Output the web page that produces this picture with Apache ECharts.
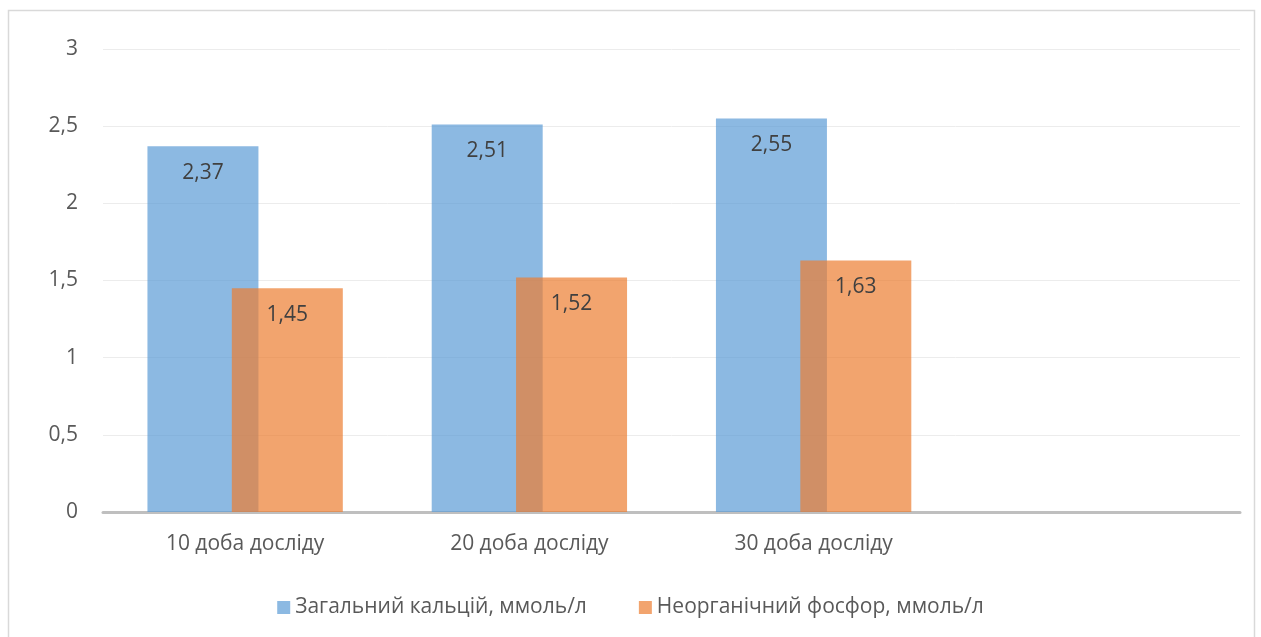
<!DOCTYPE html>
<html>
<head>
<meta charset="utf-8">
<script src="https://cdn.jsdelivr.net/npm/echarts@6/dist/echarts.min.js"></script>
<style>
html,body{margin:0;padding:0;background:#fff;}
#chart{width:1261px;height:637px;}
</style>
</head>
<body>
<div id="chart"></div>
<script>
var categories = ['10 доба досліду', '20 доба досліду', '30 доба досліду', ''];
var calcium = [2.37, 2.51, 2.55, null];
var phosphorus = [1.45, 1.52, 1.63, null];
var seriesNames = ['Загальний кальцій, ммоль/л', 'Неорганічний фосфор, ммоль/л'];

var fontFamily = '"Open Sans", "Noto Sans", sans-serif';

function fmt(p){
    return String(p.value).replace('.', ',');
}

var chartObj = {
    myChart : echarts.init(document.getElementById('chart')),
    option : null,
    init : function(){
        var that = this;
        that.render();
    },
    render : function(){
        var that = this;
        that.option = {
            animation : false,
            graphic : [{
                type : 'rect',
                shape : {x: 8.5, y: 10.5, width: 1246, height: 640},
                style : {fill: 'none', stroke: '#d9d9d9', lineWidth: 1.5}
            }],
            grid : {left: 103, right: 21, top: 49, bottom: 125},
            legend : {
                bottom : 14,
                left : 'center',
                itemWidth : 13,
                itemHeight : 13,
                itemGap : 52,
                icon : 'rect',
                textStyle : {color: '#595959', fontSize: 21, fontFamily: fontFamily}
            },
            xAxis : {
                type : 'category',
                data : categories,
                axisLine : {lineStyle: {color: '#bfbfbf', width: 3}},
                axisTick : {show: false},
                axisLabel : {color: '#595959', fontSize: 21, fontFamily: fontFamily, margin: 22}
            },
            yAxis : {
                type : 'value',
                min : 0,
                max : 3,
                interval : 0.5,
                axisLine : {show: false},
                axisTick : {show: false},
                splitLine : {lineStyle: {color: '#ececec', width: 1}},
                axisLabel : {
                    color : '#595959', fontSize: 21, fontFamily: fontFamily, margin: 25,
                    formatter : function(v){ return String(v).replace('.', ','); }
                }
            },
            series : [
                {
                    name : seriesNames[0],
                    type : 'bar',
                    data : calcium,
                    barWidth : 111,
                    barGap : '-24%',
                    itemStyle : {color: 'rgba(91,155,213,0.7)'},
                    label : {
                        show : true, position: 'insideTop', distance: 16,
                        color : '#404040', fontSize: 21, fontFamily: fontFamily,
                        formatter : fmt
                    }
                },
                {
                    name : seriesNames[1],
                    type : 'bar',
                    data : phosphorus,
                    barWidth : 111,
                    itemStyle : {color: 'rgba(237,125,49,0.7)'},
                    label : {
                        show : true, position: 'insideTop', distance: 16,
                        color : '#404040', fontSize: 21, fontFamily: fontFamily,
                        formatter : fmt
                    }
                }
            ]
        };
        that.myChart.setOption(that.option);
    }
};
chartObj.init();
</script>
</body>
</html>
